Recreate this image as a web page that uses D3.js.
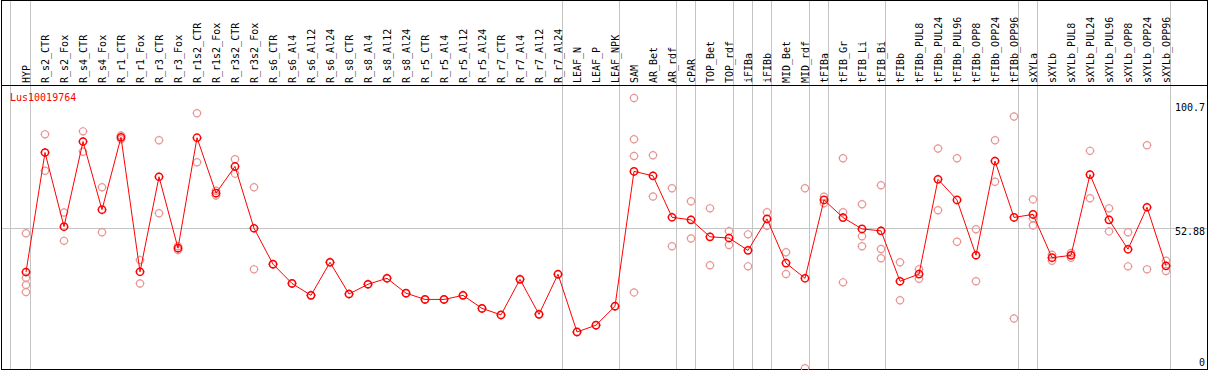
<!DOCTYPE html>
<html lang="en">

<head>
    <meta charset="UTF-8">
    <title>Lus10019764 expression</title>
    <script src="https://d3js.org/d3.v7.min.js"></script>
    <style>
        body { margin: 0; background: #fff; }
        text { font-family: "DejaVu Sans Mono", monospace; font-size: 10px; }
    </style>
</head>

<body>
    <script>
        // chart size
        const width = 1209;
        const height = 370;

        // sample names (one column each)
        const categories = [
            "HYP", "R_s2_CTR", "R_s2_Fox", "R_s4_CTR", "R_s4_Fox", "R_r1_CTR", "R_r1_Fox",
            "R_r3_CTR", "R_r3_Fox", "R_r1s2_CTR", "R_r1s2_Fox", "R_r3s2_CTR", "R_r3s2_Fox",
            "R_s6_CTR", "R_s6_Al4", "R_s6_Al12", "R_s6_Al24", "R_s8_CTR", "R_s8_Al4", "R_s8_Al12",
            "R_s8_Al24", "R_r5_CTR", "R_r5_Al4", "R_r5_Al12", "R_r5_Al24", "R_r7_CTR", "R_r7_Al4",
            "R_r7_Al12", "R_r7_Al24", "LEAF_N", "LEAF_P", "LEAF_NPK", "SAM", "AR_Bet", "AR_rdf",
            "cPAR", "TOP_Bet", "TOP_rdf", "iFIBa", "iFIBb", "MID_Bet", "MID_rdf", "tFIBa",
            "tFIB_Gr", "tFIB_Li", "tFIB_Bi", "tFIBb", "tFIBb_PUL8", "tFIBb_PUL24", "tFIBb_PUL96",
            "tFIBb_OPP8", "tFIBb_OPP24", "tFIBb_OPP96", "sXYLa", "sXYLb", "sXYLb_PUL8",
            "sXYLb_PUL24", "sXYLb_PUL96", "sXYLb_OPP8", "sXYLb_OPP24", "sXYLb_OPP96"
        ];

        // replicate values per sample (the line shows their mean)
        const replicates = [
            [50.8, 34.4, 31.7, 29.1], [87.3, 73.9], [58.5, 48.0], [88.4, 80.9], [67.8, 51.2],
            [86.9, 85.5], [40.9, 32.3], [85.1, 58.2], [46.0, 44.6], [95.1, 77.0], [66.5, 64.7],
            [78.1, 72.8], [67.8, 37.5],
            [39.4], [32.3], [27.9], [40.1], [28.4], [32.0], [34.2], [28.7],
            [26.4], [26.4], [27.9], [23.1], [20.7], [33.8], [20.9], [35.7],
            [14.4], [16.9], [23.9],
            [100.7, 85.5, 79.3, 29.0], [79.6, 64.4], [67.4, 46.0], [62.6, 48.9], [60.0, 39.0],
            [51.6, 46.5], [50.4, 38.6], [58.6, 53.6], [43.8, 35.8], [67.4, 1.0], [64.3, 61.9],
            [78.5, 58.6, 32.7], [61.5, 49.7, 46.0], [68.5, 45.0, 41.6], [40.1, 26.1],
            [37.5, 34.0], [82.1, 59.3], [78.5, 47.7], [52.3, 33.1], [85.1, 69.8], [93.9, 19.4],
            [63.3, 56.3, 53.7], [42.9, 40.7], [43.5, 41.8], [81.2, 63.7], [60.0, 51.5],
            [51.2, 38.6], [83.3, 37.5], [40.7, 36.9]
        ];

        // samples after which a group separator is drawn
        const groupEnds = ["HYP", "R_r7_Al24", "LEAF_NPK", "AR_rdf", "cPAR", "TOP_rdf", "iFIBa",
            "iFIBb", "MID_rdf", "tFIBa", "tFIB_Bi", "tFIBb_OPP96", "sXYLa", "sXYLb_OPP96"];

        // right-hand value labels
        const yTicks = [100.7, 52.88, 0];
        const geneName = "Lus10019764";

        const svg = d3.select("body").append("svg")
            .attr("width", width)
            .attr("height", height);

        const x = d3.scalePoint()
            .domain(categories)
            .range([26, 1166]);

        const y = d3.scaleLinear()
            .domain([0, 100.7])
            .range([371, 98]);

        const headerBottom = 85.5;
        const plotBottom = 369.5;

        // gray grid lines
        const grid = svg.append("g").attr("stroke", "#c4c4c4").attr("stroke-width", 1);
        grid.append("line")
            .attr("x1", 10.5).attr("x2", 10.5)
            .attr("y1", 0).attr("y2", plotBottom);
        grid.selectAll("line.sep")
            .data(groupEnds)
            .join("line")
            .attr("class", "sep")
            .attr("x1", d => Math.round(x(d)) + 4.5)
            .attr("x2", d => Math.round(x(d)) + 4.5)
            .attr("y1", 0)
            .attr("y2", plotBottom);
        grid.append("line")
            .attr("x1", 1).attr("x2", 1207)
            .attr("y1", Math.round(y(52.88)) + 0.5)
            .attr("y2", Math.round(y(52.88)) + 0.5);

        // black frame and header separator
        svg.append("rect")
            .attr("x", 1.5).attr("y", 0.5)
            .attr("width", 1206).attr("height", plotBottom - 0.5)
            .attr("fill", "none")
            .attr("stroke", "#000");
        svg.append("line")
            .attr("x1", 1).attr("x2", 1208)
            .attr("y1", headerBottom).attr("y2", headerBottom)
            .attr("stroke", "#000");

        // rotated sample names in the header
        svg.append("g")
            .selectAll("text")
            .data(categories)
            .join("text")
            .attr("transform", d => `translate(${x(d) + 4},83) rotate(-90)`)
            .attr("fill", "#000")
            .text(d => d);

        // value labels on the right
        svg.append("g")
            .selectAll("text")
            .data(yTicks)
            .join("text")
            .attr("x", 1205)
            .attr("y", d => d === 100.7 ? 110.5 : d === 0 ? 366 : y(d) + 7.5)
            .attr("text-anchor", "end")
            .attr("fill", "#000")
            .text(d => d);

        svg.append("text")
            .attr("x", 10)
            .attr("y", 101)
            .attr("fill", "#ff0000")
            .text(geneName);

        // small ring with four short ticks, like the original marker
        const r = 3.6;
        const t = 0.9;
        const marker = `M${r},0A${r},${r} 0 1,1 ${-r},0A${r},${r} 0 1,1 ${r},0`
            + `M0,${-r}V${-r - t}M0,${r}V${r + t}M${-r},0H${-r - t}M${r},0H${r + t}`;

        // replicate points
        const reps = categories.flatMap((c, i) => replicates[i].map(v => ({ c, v })));
        svg.append("g")
            .selectAll("path")
            .data(reps)
            .join("path")
            .attr("transform", d => `translate(${x(d.c)},${y(d.v)})`)
            .attr("d", marker)
            .attr("fill", "none")
            .attr("stroke", "#e89494")
            .attr("stroke-width", 1.2);

        // mean line
        const means = categories.map((c, i) => ({ c, v: d3.mean(replicates[i]) }));
        svg.append("path")
            .datum(means)
            .attr("fill", "none")
            .attr("stroke", "#ff0000")
            .attr("stroke-width", 1)
            .attr("d", d3.line().x(d => x(d.c)).y(d => y(d.v)));

        svg.append("g")
            .selectAll("path")
            .data(means)
            .join("path")
            .attr("transform", d => `translate(${x(d.c)},${y(d.v)})`)
            .attr("d", marker)
            .attr("fill", "none")
            .attr("stroke", "#ff0000")
            .attr("stroke-width", 1.5);
    </script>
</body>

</html>
